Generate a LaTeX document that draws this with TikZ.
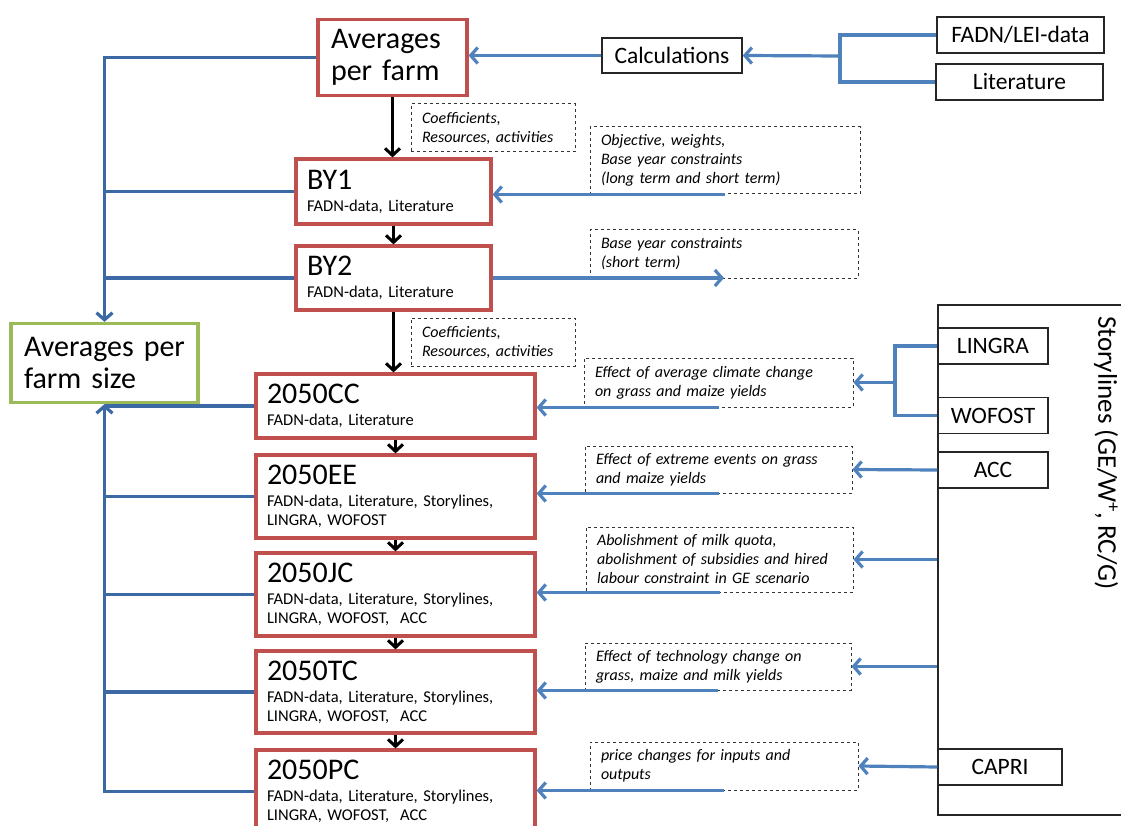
\documentclass[tikz,border=0pt]{standalone}
\usepackage{fontspec}
\setmainfont{Carlito}
\usetikzlibrary{arrows.meta, positioning}
\definecolor{cred}{HTML}{C0504D}
\definecolor{cgreen}{HTML}{9BBB59}
\definecolor{cblue}{HTML}{4F81BD}
\definecolor{cdblue}{HTML}{3C68A4}
\newcommand{\bigtxt}{\fontsize{30}{32}\selectfont}
\newcommand{\midtxt}{\fontsize{23.5}{27}\selectfont}
\newcommand{\smalltxt}{\fontsize{16.5}{19}\selectfont}
\newcommand{\notetxt}{\fontsize{16}{19}\selectfont\itshape}
\tikzset{
  every picture/.style={x=1pt, y=-1pt},
  box/.style={draw=#1, line width=3.2pt, fill=white, align=left, inner xsep=11pt, inner ysep=3pt, font=\smalltxt},
  box/.default=cred,
  src/.style={draw=black!85, line width=1.5pt, fill=white, font=\midtxt, inner sep=0pt, minimum height=36pt},
  note/.style={draw=black!80, dashed, line width=1pt, align=left, inner xsep=11pt, inner ysep=3pt, font=\notetxt},
  arrow/.style={-{Straight Barb[length=7pt, width=16pt]}, draw=cblue, line width=3.2pt},
  feed/.style={draw=cblue, line width=3.2pt},
  larrow/.style={-{Straight Barb[length=7pt, width=16pt]}, draw=cdblue, line width=3.2pt},
  lline/.style={draw=cdblue, line width=3.2pt},
  down/.style={-{Straight Barb[length=7pt, width=15pt]}, draw=black, line width=3pt},
}

\begin{document}
\begin{tikzpicture}
  \useasboundingbox (0,0) rectangle (1121,826);
  % farm averages and their sources
  \node[box, text width=123pt, minimum height=76pt, font=\bigtxt, inner xsep=13pt] (apf) at (392.5,57.5) {Averages\\per farm};
  \node[src, minimum width=140pt, minimum height=35pt] (calc) at (672,55.5) {Calculations};
  \node[src, minimum width=167pt] (fadn) at (1020.5,35) {FADN/LEI-data};
  \node[src, minimum width=167pt] (lit) at (1019.5,82) {Literature};
  \node[box=cgreen, text width=161pt, minimum height=79pt, font=\bigtxt, inner xsep=13pt] (afs) at (104.5,363) {Averages per\\farm size};
  % base year
  \node[note, text width=142pt, minimum height=48pt] (nc1) at (493,128) {Coefficients,\\Resources, activities};
  \node[box, text width=173pt, minimum height=65pt] (by1) at (393.5,191.5) {{\bigtxt BY1}\\[3pt]FADN-data, Literature};
  \node[box, text width=173pt, minimum height=64pt] (by2) at (393.5,278) {{\bigtxt BY2}\\[3pt]FADN-data, Literature};
  \node[note, text width=248pt, minimum height=67pt] (nby1) at (725,160.5) {Objective, weights,\\Base year constraints\\(long term and short term)};
  \node[note, text width=246pt, minimum height=48pt] (nby2) at (724,254) {Base year constraints\\(short term)};
  \node[note, text width=142pt, minimum height=48pt] (nc2) at (493,342) {Coefficients,\\Resources, activities};
  % storylines and models
  \node[draw=black!85, line width=1.5pt, minimum width=187pt, minimum height=510pt] (story) at (1031.5,560) {};
  \node[rotate=-90, font=\fontsize{27}{30}\selectfont] (stxt) at (1106,453) {Storylines (GE/W\textsuperscript{+}, RC/G)};
  \node[src, minimum width=110pt] (lingra) at (993,346) {LINGRA};
  \node[src, minimum width=110pt] (wofost) at (993,415.5) {WOFOST};
  \node[src, minimum width=110pt] (acc) at (993,470) {ACC};
  \node[src, minimum width=124pt] (capri) at (1000,767) {CAPRI};
  % 2050 scenarios
  \foreach \n/\l/\y/\h/\t in {cc/2050CC/406/64/{FADN-data, Literature},
      ee/2050EE/496.5/83/{FADN-data, Literature, Storylines,\\LINGRA, WOFOST},
      jc/2050JC/594.5/83/{FADN-data, Literature, Storylines,\\LINGRA, WOFOST,\ \ ACC},
      tc/2050TC/692/82/{FADN-data, Literature, Storylines,\\LINGRA, WOFOST,\ \ ACC},
      pc/2050PC/791.5/83/{FADN-data, Literature, Storylines,\\LINGRA, WOFOST,\ \ ACC}}
    { \node[box, text width=257pt, minimum height=\h pt] (\n) at (395.5,\y) {{\bigtxt\l}\\[3pt]\t}; }
  \node[note, text width=247pt, minimum height=49pt] (ncc) at (718.5,382.5) {Effect of average climate change\\on grass and maize yields};
  \node[note, text width=245pt, minimum height=47pt] (nee) at (718.5,469.5) {Effect of extreme events on grass\\and maize yields};
  \node[note, text width=245pt, minimum height=65pt] (njc) at (719.5,559.5) {Abolishment of milk quota,\\abolishment of subsidies and hired\\labour constraint in GE scenario};
  \node[note, text width=244pt, minimum height=47pt] (ntc) at (718,666.5) {Effect of technology change on\\grass, maize and milk yields};
  \node[note, text width=246pt, minimum height=48pt] (npc) at (724,766) {price changes for inputs and\\outputs};
  % flow down the chain
  \draw[down] (apf.south) -- (apf.south |- by1.north);
  \draw[down] (by1.south) -- (by2.north);
  \draw[down] (by2.south) -- (by2.south |- cc.north);
  \draw[down] (cc.south) -- (ee.north);
  \draw[down] (ee.south) -- (jc.north);
  \draw[down] (jc.south) -- (tc.north);
  \draw[down] (tc.south) -- (pc.north);
  % inputs from the right
  \coordinate (f1) at (840,56);
  \draw[feed] (fadn.west) -| (f1);
  \draw[feed] (lit.west) -| (f1);
  \draw[arrow] (f1) -- (calc.east);
  \draw[arrow] (calc.west) -- (calc.west -| apf.east);
  \draw[arrow] (nby1.south) -- (nby1.south -| by1.east);
  \draw[arrow] (by2.east) -- (by2.east -| nby2.south);
  \foreach \n in {cc,ee,jc,tc,pc}
    { \draw[arrow] (n\n.south) -- (n\n.south -| \n.east); }
  \coordinate (f2) at (895,382.5);
  \draw[feed] (lingra.west) -| (f2);
  \draw[feed] (wofost.west) -| (f2);
  \draw[arrow] (f2) -- (ncc.east);
  \draw[arrow] (acc.west) -- (nee.east);
  \draw[arrow] (njc.east -| story.west) -- (njc.east);
  \draw[arrow] (ntc.east -| story.west) -- (ntc.east);
  \draw[arrow] (capri.west) -- (npc.east);
  % results gathered per farm size
  \draw[larrow] (apf.west) -| (afs.north);
  \draw[lline] (by1.west) -- (by1.west -| afs.north);
  \draw[lline] (by2.west) -- (by2.west -| afs.north);
  \draw[larrow] (pc.west) -| (afs.south);
  \foreach \n in {cc,ee,jc,tc}
    { \draw[lline] (\n.west) -- (\n.west -| afs.south); }
\end{tikzpicture}
\end{document}
